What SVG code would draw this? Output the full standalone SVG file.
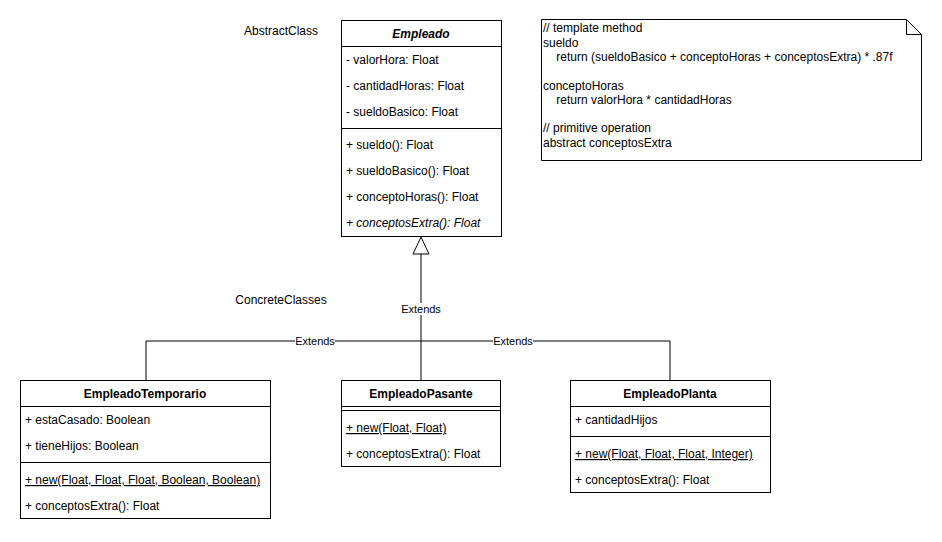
<svg xmlns="http://www.w3.org/2000/svg" width="942" height="542" viewBox="0 0 942 542">
<style>
text{font-family:"Liberation Sans",Arial,sans-serif;font-size:12px;fill:#000}
.b{font-weight:bold}
.c{text-anchor:middle}
.u{text-decoration:underline}
.i{font-style:italic}
.lbl{font-size:11px;text-anchor:middle}
rect,path.box{fill:#fff;stroke:#000;stroke-width:1}
line,.edge{stroke:#000;stroke-width:1;fill:none}
</style>
<rect x="0" y="0" width="942" height="542" style="fill:#fff;stroke:none"/>
<text x="281" y="35" class="c">AbstractClass</text>
<text x="281" y="304" class="c">ConcreteClasses</text>
<g id="connectors">
<path class="edge" d="M421 254 V380"/>
<path class="edge" d="M146 380 V341 H670 V380"/>
<path d="M421 237 L429 254 L413 254 Z" style="fill:#fff;stroke:#000"/>
<rect x="401" y="303" width="40" height="12" style="fill:#fff;stroke:none"/>
<text x="421" y="313" class="lbl">Extends</text>
<rect x="295" y="335" width="40" height="12" style="fill:#fff;stroke:none"/>
<text x="315" y="345" class="lbl">Extends</text>
<rect x="493" y="335" width="40" height="12" style="fill:#fff;stroke:none"/>
<text x="513" y="345" class="lbl">Extends</text>
</g>
<g id="Empleado">
<rect x="341.5" y="20.5" width="160" height="216"/>
<line x1="341.5" y1="46.5" x2="501.5" y2="46.5"/>
<line x1="341.5" y1="128.5" x2="501.5" y2="128.5"/>
<text x="421" y="38" class="c b i">Empleado</text>
<text x="346" y="64">- valorHora: Float</text>
<text x="346" y="90">- cantidadHoras: Float</text>
<text x="346" y="116">- sueldoBasico: Float</text>
<text x="346" y="149">+ sueldo(): Float</text>
<text x="346" y="175">+ sueldoBasico(): Float</text>
<text x="346" y="201">+ conceptoHoras(): Float</text>
<text x="346" y="227" class="i">+ conceptosExtra(): Float</text>
</g>
<g id="note">
<path class="box" d="M541.5 19.5 H906.5 L921.5 34.5 V160.5 H541.5 Z"/>
<path class="edge" d="M906.5 19.5 V34.5 H921.5"/>
<text x="543" y="32">// template method</text>
<text x="543" y="47">sueldo</text>
<text x="543" y="61" xml:space="preserve">    return (sueldoBasico + conceptoHoras + conceptosExtra) * .87f</text>
<text x="543" y="90">conceptoHoras</text>
<text x="543" y="104" xml:space="preserve">    return valorHora * cantidadHoras</text>
<text x="543" y="132">// primitive operation</text>
<text x="543" y="147">abstract conceptosExtra</text>
</g>
<g id="EmpleadoTemporario">
<rect x="20.5" y="380.5" width="250" height="138"/>
<line x1="20.5" y1="406.5" x2="270.5" y2="406.5"/>
<line x1="20.5" y1="462.5" x2="270.5" y2="462.5"/>
<text x="145" y="398" class="c b">EmpleadoTemporario</text>
<text x="25" y="424">+ estaCasado: Boolean</text>
<text x="25" y="450">+ tieneHijos: Boolean</text>
<text x="25" y="484" class="u">+ new(Float, Float, Float, Boolean, Boolean)</text>
<text x="25" y="510">+ conceptosExtra(): Float</text>
</g>
<g id="EmpleadoPasante">
<rect x="341.5" y="380.5" width="159" height="86"/>
<line x1="341.5" y1="406.5" x2="500.5" y2="406.5"/>
<line x1="341.5" y1="410.5" x2="500.5" y2="410.5"/>
<text x="421" y="398" class="c b">EmpleadoPasante</text>
<text x="346" y="432" class="u">+ new(Float, Float)</text>
<text x="346" y="458">+ conceptosExtra(): Float</text>
</g>
<g id="EmpleadoPlanta">
<rect x="570.5" y="380.5" width="200" height="112"/>
<line x1="570.5" y1="406.5" x2="770.5" y2="406.5"/>
<line x1="570.5" y1="436.5" x2="770.5" y2="436.5"/>
<text x="670" y="398" class="c b">EmpleadoPlanta</text>
<text x="575" y="424">+ cantidadHijos</text>
<text x="575" y="458" class="u">+ new(Float, Float, Float, Integer)</text>
<text x="575" y="484">+ conceptosExtra(): Float</text>
</g>
</svg>
